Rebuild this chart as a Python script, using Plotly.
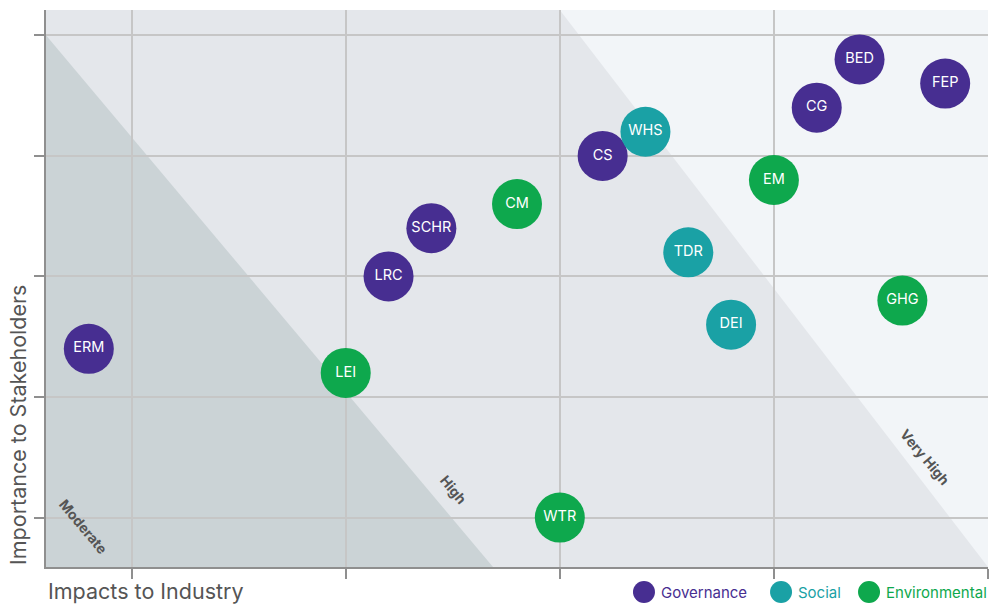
import plotly.graph_objects as go

# ---- data ----
categories = ["Governance", "Social", "Environmental"]
colors = {"Governance": "#472e91", "Social": "#1aa1a5", "Environmental": "#0ea84d"}

gov_labels = ["ERM", "LRC", "SCHR", "CS", "CG", "BED", "FEP"]
gov_x = [0.8, 2.2, 2.4, 3.2, 4.2, 4.4, 4.8]
gov_y = [2.4, 3.0, 3.4, 4.0, 4.4, 4.8, 4.6]

soc_labels = ["WHS", "TDR", "DEI"]
soc_x = [3.4, 3.6, 3.8]
soc_y = [4.2, 3.2, 2.6]

env_labels = ["LEI", "CM", "EM", "GHG", "WTR"]
env_x = [2.0, 2.8, 4.0, 4.6, 3.0]
env_y = [2.2, 3.6, 3.8, 2.8, 1.0]

band_labels = ["Moderate", "High", "Very High"]
x_title = "Impacts to Industry"
y_title = "Importance to Stakeholders"

FONT = "Inter, Roboto, sans-serif"
X_RANGE = [0.6, 5.0]
Y_RANGE = [0.59, 5.21]

fig = go.Figure()

series = [
    ("Governance", gov_x, gov_y, gov_labels),
    ("Social", soc_x, soc_y, soc_labels),
    ("Environmental", env_x, env_y, env_labels),
]
for name, xs, ys, labels in series:
    fig.add_trace(go.Scatter(
        x=xs, y=ys, text=labels, name=name, mode="markers+text",
        marker=dict(size=50, color=colors[name], line=dict(width=0)),
        textposition="middle center",
        textfont=dict(color="white", size=14.5, family=FONT),
        cliponaxis=False, showlegend=False, hoverinfo="text+name",
    ))

shapes = [
    # Moderate zone
    dict(type="path", path="M 0.6,5 L 2.688,0.59 L 0.6,0.59 Z", xref="x", yref="y",
         fillcolor="#cbd3d6", line=dict(width=0), layer="below"),
    # Very high zone
    dict(type="path", path="M 3.0,5.21 L 5.0,5.21 L 5.0,0.59 Z", xref="x", yref="y",
         fillcolor="#f2f5f8", line=dict(width=0), layer="below"),
]

band_pos = [(0.777, 0.93), (2.505, 1.236), (4.706, 1.51)]
annotations = []
for lbl, (bx, by) in zip(band_labels, band_pos):
    annotations.append(dict(x=bx, y=by, xref="x", yref="y", text="<b>" + lbl + "</b>",
                            textangle=50, showarrow=False,
                            font=dict(size=14, color="#555555", family=FONT)))

annotations += [
    dict(x=0, y=-0.0435, xref="paper", yref="paper", xanchor="left", yanchor="middle",
         text=x_title, showarrow=False, font=dict(size=21.5, color="#555555", family=FONT)),
    dict(x=-0.0297, y=0.0, xref="paper", yref="paper", xanchor="center", yanchor="bottom",
         text=y_title, textangle=-90, showarrow=False,
         font=dict(size=21.5, color="#555555", family=FONT)),
]

# custom legend
leg_marker_x = [0.6348, 0.7803, 0.8737]
leg_text_x = [0.6507, 0.7962, 0.8896]
leg_y = -0.0449
for cat, mx, tx in zip(categories, leg_marker_x, leg_text_x):
    shapes.append(dict(type="circle", xref="paper", yref="paper",
                       xsizemode="pixel", ysizemode="pixel",
                       xanchor=mx, yanchor=leg_y, x0=-11, x1=11, y0=-11, y1=11,
                       fillcolor=colors[cat], line=dict(width=0)))
    annotations.append(dict(x=tx, y=leg_y, xref="paper", yref="paper",
                            xanchor="left", yanchor="middle", text=cat, showarrow=False,
                            font=dict(size=15, color=colors[cat], family=FONT)))

axis_common = dict(
    showgrid=True, gridcolor="#c6c6c6", gridwidth=2,
    showline=True, linecolor="#8f8f8f", linewidth=2,
    ticks="outside", ticklen=10, tickwidth=2, tickcolor="#8f8f8f",
    showticklabels=False, zeroline=False, mirror=False,
)

fig.update_layout(
    width=992, height=605,
    margin=dict(l=46, r=4, t=10, b=38),
    paper_bgcolor="white", plot_bgcolor="#e4e7eb",
    xaxis=dict(range=X_RANGE, tickvals=[1, 2, 3, 4, 5], **axis_common),
    yaxis=dict(range=Y_RANGE, tickvals=[1, 2, 3, 4, 5], **axis_common),
    shapes=shapes, annotations=annotations,
    font=dict(family=FONT),
    showlegend=False,
)

fig.write_html("out.html", config={"displayModeBar": False},
               post_script="document.body.style.margin='0';document.body.style.overflow='hidden';")
